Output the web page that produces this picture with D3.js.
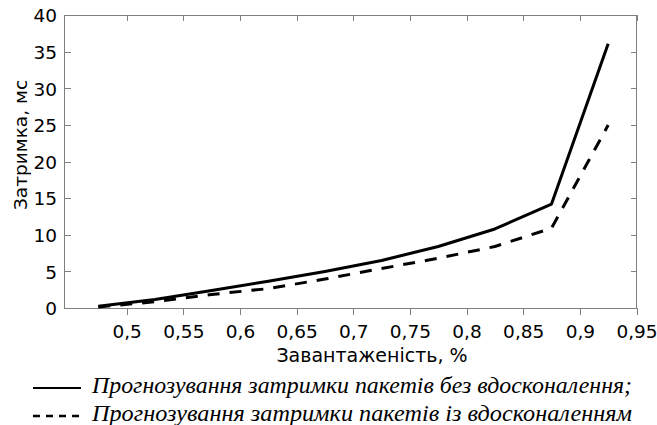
<!DOCTYPE html>
<html><head><meta charset="utf-8">
<script src="https://cdn.jsdelivr.net/npm/d3@7/dist/d3.min.js"></script>
<style>html,body{margin:0;padding:0;background:#fff;}svg{display:block;}</style>
</head><body>
<script>
const loadX = [0.475, 0.525, 0.575, 0.625, 0.675, 0.725, 0.775, 0.825, 0.875, 0.925];
const delayBase = [0.23, 1.15, 2.4, 3.65, 5.0, 6.5, 8.4, 10.8, 14.2, 36.1];
const delayImproved = [0.15, 0.85, 1.85, 2.65, 3.95, 5.4, 6.8, 8.4, 10.9, 25.0];
const xTicks = [0.5, 0.55, 0.6, 0.65, 0.7, 0.75, 0.8, 0.85, 0.9, 0.95];
const yTicks = [0, 5, 10, 15, 20, 25, 30, 35, 40];
const xTitle = "Завантаженість, %";
const yTitle = "Затримка, мс";
const legendLabels = ["Прогнозування затримки пакетів без вдосконалення;", "Прогнозування затримки пакетів із вдосконаленням"];

const W = 657, H = 425;
const L = 64, R = 636.5, T = 15.3, B = 308;
const svg = d3.select("body").append("svg").attr("width", W).attr("height", H);
const x = d3.scaleLinear().domain([0.4447, 0.95]).range([L, R]);
const y = d3.scaleLinear().domain([0, 40]).range([B, T]);
const fmt = d => String(d).replace(".", ",");
const axisColor = "#808080";
const sans = "'DejaVu Sans', sans-serif";

// frame
svg.append("rect").attr("x", L).attr("y", T).attr("width", R - L).attr("height", B - T)
  .attr("fill", "none").attr("stroke", axisColor).attr("stroke-width", 1).attr("shape-rendering", "crispEdges");

// axes
const gB = svg.append("g").attr("transform", `translate(0,${B})`)
  .call(d3.axisBottom(x).tickValues(xTicks).tickSize(7).tickPadding(10).tickFormat(fmt));
const gT = svg.append("g").attr("transform", `translate(0,${T})`)
  .call(d3.axisBottom(x).tickValues(xTicks).tickSize(6).tickFormat(""));
const gL = svg.append("g").attr("transform", `translate(${L},0)`)
  .call(d3.axisRight(y).tickValues(yTicks).tickSize(7).tickFormat(""));
const gLab = svg.append("g").attr("transform", `translate(${L},0)`)
  .call(d3.axisLeft(y).tickValues(yTicks).tickSize(0).tickPadding(7).tickFormat(d => d));
const gR = svg.append("g").attr("transform", `translate(${R},0)`)
  .call(d3.axisLeft(y).tickValues(yTicks).tickSize(6).tickFormat(""));
[gB, gT, gL, gLab, gR].forEach(g => {
  g.select(".domain").remove();
  g.selectAll("line").attr("stroke", axisColor).attr("shape-rendering", "crispEdges");
  g.selectAll("text").attr("fill", "#000").style("font-family", sans).style("font-size", "18.5px");
});
gLab.selectAll("text").attr("dy", "0.36em");

// titles
svg.append("text").attr("x", 372).attr("y", 362).attr("text-anchor", "middle")
  .style("font-family", sans).style("font-size", "19px").text(xTitle);
svg.append("text").attr("transform", "translate(27,145) rotate(-90)").attr("text-anchor", "middle")
  .style("font-family", sans).style("font-size", "18.5px").text(yTitle);

// lines
const line = d3.line().x(d => x(d[0])).y(d => y(d[1]));
svg.append("path").datum(loadX.map((v, i) => [v, delayBase[i]]))
  .attr("d", line).attr("fill", "none").attr("stroke", "#000").attr("stroke-width", 3).attr("stroke-linejoin", "round");
svg.append("path").datum(loadX.map((v, i) => [v, delayImproved[i]]))
  .attr("d", line).attr("fill", "none").attr("stroke", "#000").attr("stroke-width", 3)
  .attr("stroke-dasharray", "12,10").attr("stroke-linejoin", "round");

// legend
const serif = "'Liberation Serif', 'Times New Roman', serif";
const leg = [{y: 388, dash: null, ty: 393}, {y: 416, dash: "7,6", ty: 421}];
leg.forEach((l, i) => {
  const ln = svg.append("line").attr("x1", 33).attr("x2", i ? 85 : 81).attr("y1", l.y).attr("y2", l.y)
    .attr("stroke", "#000").attr("stroke-width", i ? 2.5 : 2);
  if (l.dash) ln.attr("stroke-dasharray", l.dash);
  svg.append("text").attr("x", 92).attr("y", l.ty)
    .attr("textLength", 540).attr("lengthAdjust", "spacingAndGlyphs")
    .style("font-family", serif).style("font-style", "italic").style("font-size", "22.5px").text(legendLabels[i]);
});
</script>
</body></html>
